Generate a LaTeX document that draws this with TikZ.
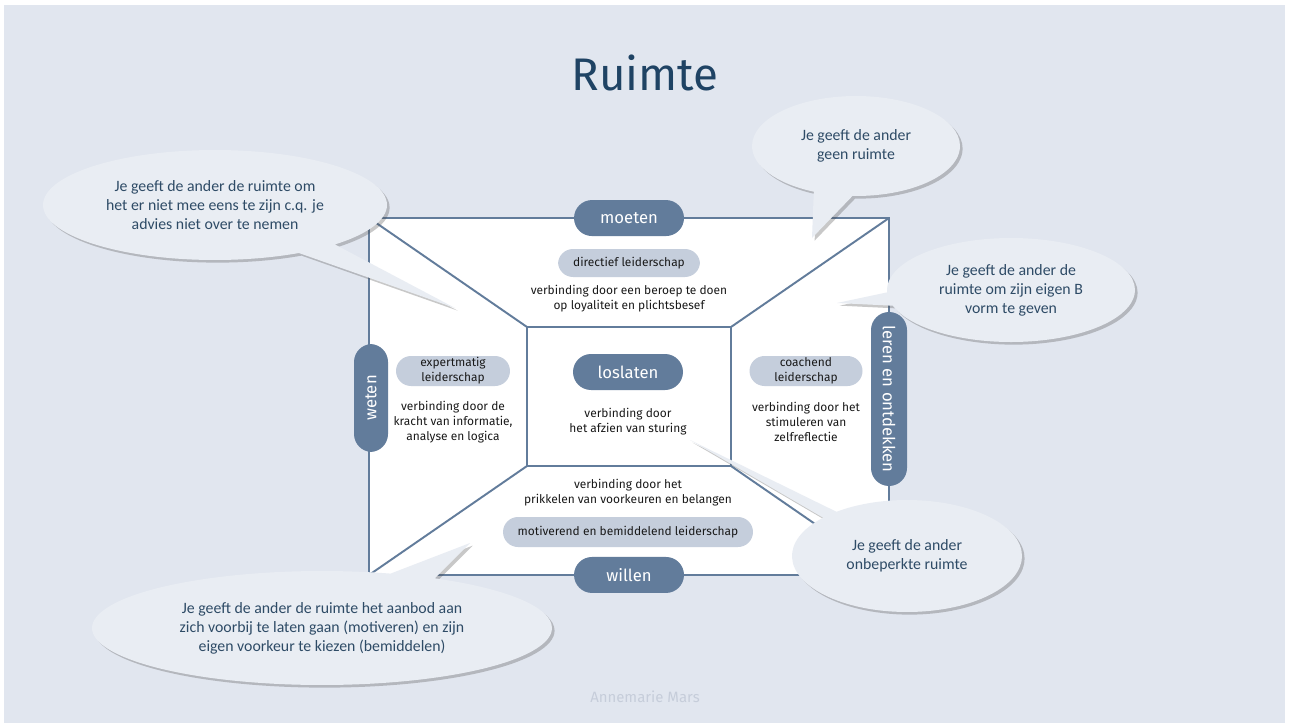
\documentclass[tikz,border=0pt]{standalone}
\usepackage{fontspec}
\setmainfont{Fira Sans}
\newfontfamily\bubblefont{Carlito}
\usetikzlibrary{shapes.callouts,shadows}
\definecolor{slide}{HTML}{E1E6EF}
\definecolor{steel}{HTML}{627C9B}
\definecolor{pale}{HTML}{C5CEDC}
\definecolor{ink}{HTML}{2E4B66}
\definecolor{bubblefill}{HTML}{E9EDF3}
\definecolor{titleblue}{HTML}{1F4364}
\definecolor{footer}{HTML}{C6CDDA}

\begin{document}
\begin{tikzpicture}[x=0.02cm,y=-0.02cm,
  frame/.style={draw=steel,line width=1.1pt,fill=white,inner sep=0pt,outer sep=0pt},
  edge/.style={draw=steel,line width=1.1pt},
  tab/.style={fill=steel,text=white,rounded corners=0.36cm,minimum width=2.2cm,
    minimum height=0.72cm,inner sep=0pt,font=\fontsize{9.5}{11}\selectfont},
  role/.style={fill=pale,text=black!90,rounded corners=0.3cm,minimum height=0.6cm,
    inner sep=0pt,align=center,font=\fontsize{6.8}{8.5}\selectfont},
  say/.style={text=black!90,align=center,font=\fontsize{6.8}{8.5}\selectfont},
  note/.style={ellipse callout,fill=bubblefill,text=ink,align=center,inner sep=0pt,
    font=\bubblefont\fontsize{9}{10.8}\selectfont,
    drop shadow={shadow xshift=1.5pt,shadow yshift=-1.5pt,opacity=0.3,fill=black!70}}]
  \useasboundingbox (0,0) rectangle (1290,723);
  \fill[slide] (4,5) rectangle (1285,723);
  \node[text=titleblue,font=\fontsize{26}{30}\selectfont] (title) at (645,73) {Ruimte};

  % the room and its centre
  \node[frame,minimum width=10.4cm,minimum height=7.14cm] (outer) at (629,396.5) {};
  \node[frame,minimum width=4.08cm,minimum height=2.78cm] (inner) at (629,396.5) {};
  \draw[edge] (outer.north west) -- (inner.north west);
  \draw[edge] (outer.north east) -- (inner.north east);
  \draw[edge] (outer.south west) -- (inner.south west);
  \draw[edge] (outer.south east) -- (inner.south east);

  \node[say] (topsay) at (629,299) {verbinding door een beroep te doen\\op loyaliteit en plichtsbesef};
  \node[say] (leftsay) at (453,422) {verbinding door de\\kracht van informatie,\\analyse en logica};
  \node[say] (midsay) at (628,422) {verbinding door\\het afzien van sturing};
  \node[say] (rightsay) at (806,422) {verbinding door het\\stimuleren van\\zelfreflectie};
  \node[say] (lowsay) at (628,493) {verbinding door het\\prikkelen van voorkeuren en belangen};

  \node[role,minimum width=2.84cm,minimum height=0.56cm] (directief) at (629,263) {directief leiderschap};
  \node[role,minimum width=2.28cm] (expert) at (453,371) {expertmatig\\leiderschap};
  \node[role,minimum width=2.26cm] (coach) at (806,371) {coachend\\leiderschap};
  \node[role,minimum width=5cm] (motiv) at (628,532) {motiverend en bemiddelend leiderschap};

  \node[tab] (moeten) at (outer.north) {moeten};
  \node[tab] (willen) at (outer.south) {willen};
  \node[tab] (loslaten) at (628,372) {loslaten};
  \node[tab,rotate=90,minimum width=2.16cm,minimum height=0.68cm] (weten) at (371,398) {weten};
  \node[tab,rotate=-90,minimum width=3.48cm] (leren) at (889,399) {leren en ontdekken};

  % speech bubbles
  \coordinate (tipa) at (455,308);
  \coordinate (tipb) at (812,238);
  \coordinate (tipc) at (837,303);
  \coordinate (tipd) at (690,440);
  \coordinate (tipe) at (470,543);
  \node[note,minimum width=6.88cm,minimum height=2.2cm,callout absolute pointer={(tipa)}]
    (bubblea) at (215,205) {Je geeft de ander de ruimte om\\het er niet mee eens te zijn c.q. je\\advies niet over te nemen};
  \node[note,minimum width=4.16cm,minimum height=2cm,callout pointer arc=22,callout absolute pointer={(tipb)}]
    (bubbleb) at (856,146) {Je geeft de ander\\geen ruimte};
  \node[note,minimum width=4.96cm,minimum height=2.08cm,callout absolute pointer={(tipc)}]
    (bubblec) at (1011,290) {Je geeft de ander de\\ruimte om zijn eigen B\\vorm te geven};
  \node[note,minimum width=4.6cm,minimum height=2.24cm,callout pointer arc=9,callout absolute pointer={(tipd)}]
    (bubbled) at (907,556) {Je geeft de ander\\onbeperkte ruimte};
  \node[note,minimum width=9.2cm,minimum height=2.28cm,callout pointer arc=12,callout absolute pointer={(tipe)}]
    (bubblee) at (322,628) {Je geeft de ander de ruimte het aanbod aan\\zich voorbij te laten gaan (motiveren) en zijn\\eigen voorkeur te kiezen (bemiddelen)};

  \node[text=footer,font=\fontsize{8.5}{10}\selectfont] (maker) at (645,697) {Annemarie Mars};
\end{tikzpicture}
\end{document}
